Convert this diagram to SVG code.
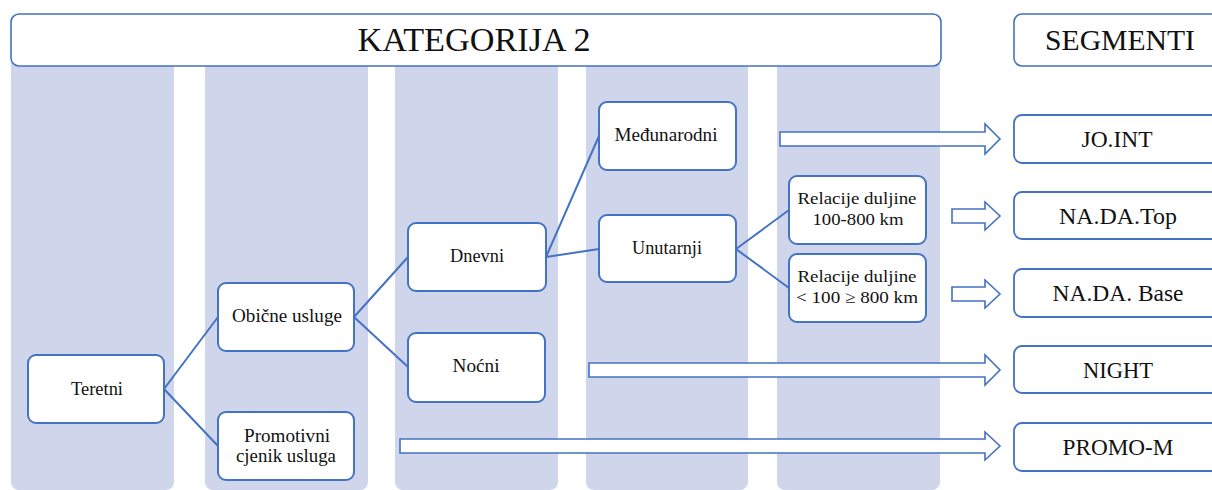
<svg xmlns="http://www.w3.org/2000/svg" width="1212" height="490" viewBox="0 0 1212 490">
<style>
.col{fill:#CFD5EA}
.hdr{fill:#fff;stroke:#4472C4;stroke-width:1.6}
.node{fill:#fff;stroke:#4472C4;stroke-width:2}
.seg{fill:#fff;stroke:#4472C4;stroke-width:1.8}
text{font-family:'Liberation Serif','Tinos','DejaVu Serif',serif}
.t{fill:#111;text-anchor:middle}
.n{font-size:18px}
.s{font-size:23px}
.r{font-size:17px}
.link{stroke:#4472C4;stroke-width:2;fill:none}
.barrow{fill:#fff;stroke:#4472C4;stroke-width:1.6;stroke-linejoin:miter}
</style>
<rect x="0" y="0" width="1212" height="490" fill="#fff"/>
<g id="columns">
<rect class="col" x="11" y="40" width="163" height="450" rx="8"/>
<rect class="col" x="205" y="40" width="163" height="450" rx="8"/>
<rect class="col" x="395" y="40" width="163" height="450" rx="8"/>
<rect class="col" x="586" y="40" width="162" height="450" rx="8"/>
<rect class="col" x="777" y="40" width="163" height="450" rx="8"/>
</g>
<g id="header">
<rect class="hdr" x="11" y="14" width="930" height="52" rx="8"/>
<text class="t" x="474" y="51" font-size="33" textLength="233" lengthAdjust="spacingAndGlyphs">KATEGORIJA 2</text>
</g>
<g id="segmenti">
<rect class="hdr" x="1014" y="14" width="220" height="52" rx="8"/>
<text class="t" x="1120" y="50" font-size="29" textLength="150" lengthAdjust="spacingAndGlyphs">SEGMENTI</text>
</g>
<g id="connectors">
<path class="link" d="M164 389 L218 317 M164 389 L218 446"/>
<path class="link" d="M354 317 L408 257 M354 317 L408 367"/>
<path class="link" d="M546 257 L599 136 M546 257 L599 249"/>
<path class="link" d="M736 249 L789 210 M736 249 L789 288"/>
<polygon class="barrow" points="780,132 985,132 985,124 1000,139 985,154 985,146 780,146"/>
<polygon class="barrow" points="952,209 985,209 985,202 1000,216 985,230 985,223 952,223"/>
<polygon class="barrow" points="952,287 985,287 985,280 1000,294 985,308 985,301 952,301"/>
<polygon class="barrow" points="589,363 985,363 985,355 1000,370 985,385 985,377 589,377"/>
<polygon class="barrow" points="400,439 985,439 985,432 1000,446 985,460 985,453 400,453"/>
</g>
<g id="teretni">
<rect class="node" x="28" y="355" width="136" height="68" rx="8"/>
<text class="t n" x="97" y="395" textLength="52" lengthAdjust="spacingAndGlyphs">Teretni</text>
</g>
<g id="obicne">
<rect class="node" x="218" y="283" width="136" height="68" rx="8"/>
<text class="t n" x="287" y="322" textLength="110" lengthAdjust="spacingAndGlyphs">Obične usluge</text>
</g>
<g id="promotivni">
<rect class="node" x="218" y="412" width="136" height="68" rx="8"/>
<text class="t n" x="287" y="442" textLength="86" lengthAdjust="spacingAndGlyphs">Promotivni</text>
<text class="t n" x="286" y="462" textLength="100" lengthAdjust="spacingAndGlyphs">cjenik usluga</text>
</g>
<g id="dnevni">
<rect class="node" x="408" y="223" width="138" height="68" rx="8"/>
<text class="t n" x="477" y="262" textLength="54" lengthAdjust="spacingAndGlyphs">Dnevni</text>
</g>
<g id="nocni">
<rect class="node" x="408" y="333" width="137" height="69" rx="8"/>
<text class="t n" x="476" y="372" textLength="47" lengthAdjust="spacingAndGlyphs">Noćni</text>
</g>
<g id="medunarodni">
<rect class="node" x="599" y="102" width="137" height="68" rx="8"/>
<text class="t n" x="666" y="141" textLength="103" lengthAdjust="spacingAndGlyphs">Međunarodni</text>
</g>
<g id="unutarnji">
<rect class="node" x="599" y="215" width="137" height="67" rx="8"/>
<text class="t n" x="667" y="254" textLength="70" lengthAdjust="spacingAndGlyphs">Unutarnji</text>
</g>
<g id="relacije1">
<rect class="node" x="789" y="176" width="137" height="68" rx="8"/>
<text class="t r" x="857" y="204" textLength="119" lengthAdjust="spacingAndGlyphs">Relacije duljine</text>
<text class="t r" x="858" y="225" textLength="91" lengthAdjust="spacingAndGlyphs">100-800 km</text>
</g>
<g id="relacije2">
<rect class="node" x="789" y="254" width="137" height="68" rx="8"/>
<text class="t r" x="857" y="282" textLength="119" lengthAdjust="spacingAndGlyphs">Relacije duljine</text>
<text class="t r" x="857" y="303" textLength="122" lengthAdjust="spacingAndGlyphs">&lt; 100 ≥ 800 km</text>
</g>
<g id="jo-int">
<rect class="seg" x="1014" y="115" width="220" height="48" rx="8"/>
<text class="t s" x="1117" y="147" textLength="71" lengthAdjust="spacingAndGlyphs">JO.INT</text>
</g>
<g id="na-da-top">
<rect class="seg" x="1014" y="192" width="220" height="47" rx="8"/>
<text class="t s" x="1118" y="224" textLength="118" lengthAdjust="spacingAndGlyphs">NA.DA.Top</text>
</g>
<g id="na-da-base">
<rect class="seg" x="1014" y="269" width="220" height="48" rx="8"/>
<text class="t s" x="1118" y="301" textLength="131" lengthAdjust="spacingAndGlyphs">NA.DA. Base</text>
</g>
<g id="night">
<rect class="seg" x="1014" y="346" width="220" height="47" rx="8"/>
<text class="t s" x="1118" y="378" textLength="70" lengthAdjust="spacingAndGlyphs">NIGHT</text>
</g>
<g id="promo-m">
<rect class="seg" x="1014" y="423" width="220" height="48" rx="8"/>
<text class="t s" x="1118" y="455" textLength="111" lengthAdjust="spacingAndGlyphs">PROMO-M</text>
</g>
</svg>
